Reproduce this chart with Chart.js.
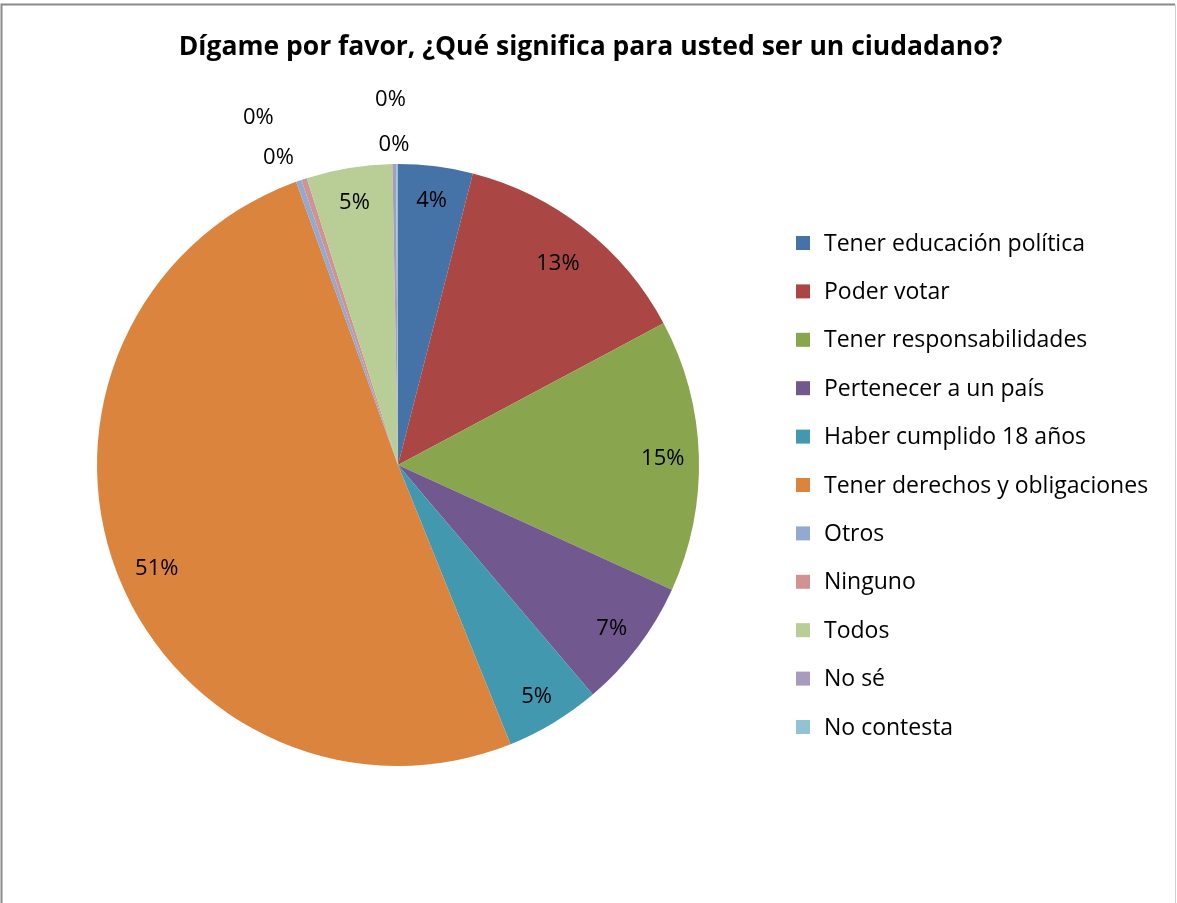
<!DOCTYPE html>
<html>
<head>
<meta charset="utf-8">
<script src="https://cdn.jsdelivr.net/npm/chart.js@4"></script>
<style>
  html, body { margin: 0; padding: 0; background: #fff; }
  #pie { display: block; }
</style>
</head>
<body>
<canvas id="pie" width="1177" height="903"></canvas>
<script>
/* Pie: ¿Qué significa para usted ser un ciudadano? */

const TITLE = 'Dígame por favor, ¿Qué significa para usted ser un ciudadano?';

const categories = [
  'Tener educación política',
  'Poder votar',
  'Tener responsabilidades',
  'Pertenecer a un país',
  'Haber cumplido 18 años',
  'Tener derechos y obligaciones',
  'Otros',
  'Ninguno',
  'Todos',
  'No sé',
  'No contesta'
];

// share of answers, %
const shares = [4.0, 13.2, 14.6, 7.0, 5.1, 50.6, 0.3, 0.3, 4.6, 0.2, 0.1];

const sliceColors = [
  '#4572A7', '#AA4643', '#89A54E', '#71588F', '#4198AF', '#DB843D',
  '#93A9CF', '#D19392', '#B9CD96', '#A99BBD', '#92C3D5'
];

const FONT = '"Open Sans"';

// percent label placement: fraction of radius, angle nudge in degrees
const labelRadius = [0.89, 0.86, 0.88, 0.89, 0.89, 0.87, 1.10, 1.25, 0.89, 1.07, 1.22];
const labelNudge  = [0, 0, 0, 0, 0, -2, -1.9, -3.6, 0, 0, -1];

const framePlugin = {
  id: 'frame',
  beforeDraw(chart) {
    const c = chart.ctx;
    c.save();
    c.fillStyle = '#fff';
    c.fillRect(0, 0, chart.width, chart.height);
    c.strokeStyle = '#8a8a8a';
    c.lineWidth = 2;
    c.beginPath();
    c.moveTo(1.5, chart.height);
    c.lineTo(1.5, 4.5);
    c.lineTo(chart.width - 2, 4.5);
    c.stroke();
    c.strokeStyle = '#cfcfcf';
    c.lineWidth = 1;
    c.beginPath();
    c.moveTo(chart.width - 1.5, 4.5);
    c.lineTo(chart.width - 1.5, chart.height);
    c.stroke();
    // title, centred on the whole canvas
    c.font = `bold 26.5px ${FONT}`;
    c.fillStyle = '#000';
    c.textAlign = 'center';
    c.textBaseline = 'middle';
    c.fillText(TITLE, chart.width / 2 + 2, 47);
    c.restore();
  }
};

const pctLabels = {
  id: 'pctLabels',
  afterDatasetsDraw(chart) {
    const c = chart.ctx;
    const data = chart.data.datasets[0].data;
    const total = data.reduce((a, b) => a + b, 0);
    c.save();
    c.font = `22px ${FONT}`;
    c.fillStyle = '#000';
    c.textAlign = 'center';
    c.textBaseline = 'middle';
    chart.getDatasetMeta(0).data.forEach((arc, i) => {
      const mid = (arc.startAngle + arc.endAngle) / 2 + labelNudge[i] * Math.PI / 180;
      const r = arc.outerRadius * labelRadius[i];
      const txt = Math.round(data[i] / total * 100) + '%';
      c.fillText(txt, arc.x + Math.cos(mid) * r, arc.y + Math.sin(mid) * r + 2);
    });
    c.restore();
  }
};

const sideLegend = {
  id: 'sideLegend',
  afterDraw(chart) {
    const c = chart.ctx;
    const colors = chart.data.datasets[0].backgroundColor;
    const x0 = 796, y0 = 243, step = 48.4, box = 14;
    c.save();
    c.font = `23px ${FONT}`;
    c.textBaseline = 'middle';
    chart.data.labels.forEach((lab, i) => {
      const y = y0 + i * step;
      c.fillStyle = colors[i];
      c.fillRect(x0, y - box / 2, box, box);
      c.fillStyle = '#000';
      c.fillText(lab, x0 + 28, y + 1);
    });
    c.restore();
  }
};

new Chart(document.getElementById('pie').getContext('2d'), {
  type: 'pie',
  data: {
    labels: categories,
    datasets: [{
      data:            shares,
      backgroundColor: sliceColors,
      borderWidth:     0,
      hoverOffset:     0
    }]
  },
  options: {
    responsive: false,
    animation:  false,
    layout: { padding: { left: 97, right: 478, top: 164, bottom: 137 } },
    plugins: {
      legend:  { display: false },
      tooltip: { enabled: false },
      title:   { display: false }
    }
  },
  plugins: [framePlugin, pctLabels, sideLegend]
});
</script>
</body>
</html>
